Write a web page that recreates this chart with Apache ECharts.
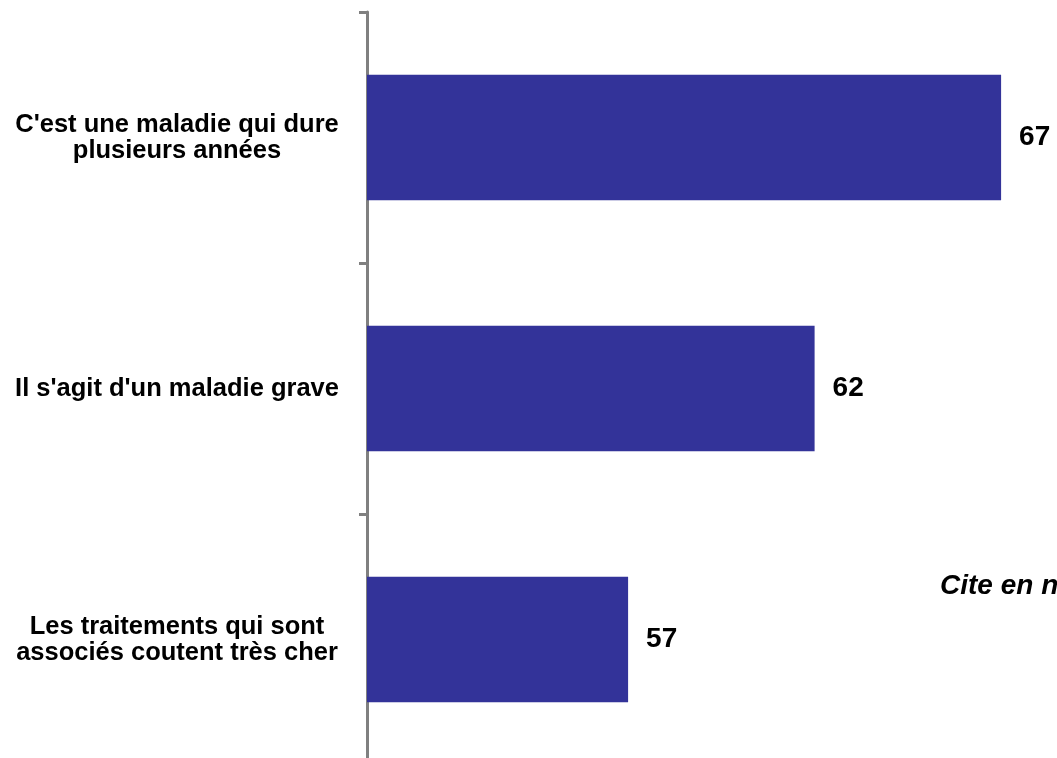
<!DOCTYPE html>
<html>
<head>
<meta charset="utf-8">
<script src="https://cdn.jsdelivr.net/npm/echarts@6/dist/echarts.min.js"></script>
<style>
html,body{margin:0;padding:0;background:#fff;}
#chart{width:1057px;height:758px;}
</style>
</head>
<body>
<div id="chart"></div>
<script>
const categories = [
  "C'est une maladie qui dure\nplusieurs années",
  "Il s'agit d'un maladie grave",
  "Les traitements qui sont\nassociés coutent très cher"
];
const values = [67, 62, 57];
const noteText = "Cite en n°1";

const chart = echarts.init(document.getElementById('chart'));
chart.setOption({
  animation: false,
  backgroundColor: '#ffffff',
  grid: { left: 367, top: 12, width: 746, height: 753, containLabel: false, outerBoundsMode: 'none' },
  xAxis: {
    type: 'value', min: 50, max: 70, show: false
  },
  yAxis: {
    type: 'category',
    data: categories,
    inverse: true,
    axisLine: { show: true, lineStyle: { color: '#808080', width: 3 } },
    axisTick: { show: true, length: 8, lineStyle: { color: '#808080', width: 3 } },
    axisLabel: {
      align: 'center',
      margin: 190,
      color: '#000',
      fontFamily: 'Liberation Sans, Arial, sans-serif',
      fontWeight: 'bold',
      fontSize: 25.5,
      lineHeight: 26
    },
    splitLine: { show: false }
  },
  series: [{
    type: 'bar',
    data: values,
    barCategoryGap: '50%',
    itemStyle: { color: '#333399' },
    label: {
      show: true,
      position: 'right',
      distance: 18,
      color: '#000',
      fontFamily: 'Liberation Sans, Arial, sans-serif',
      fontWeight: 'bold',
      fontSize: 28
    }
  }],
  graphic: [{
    type: 'text',
    left: 940,
    top: 572,
    style: {
      text: noteText,
      fill: '#000',
      font: 'italic bold 28px "Liberation Sans", Arial, sans-serif'
    }
  }]
});
</script>
</body>
</html>
